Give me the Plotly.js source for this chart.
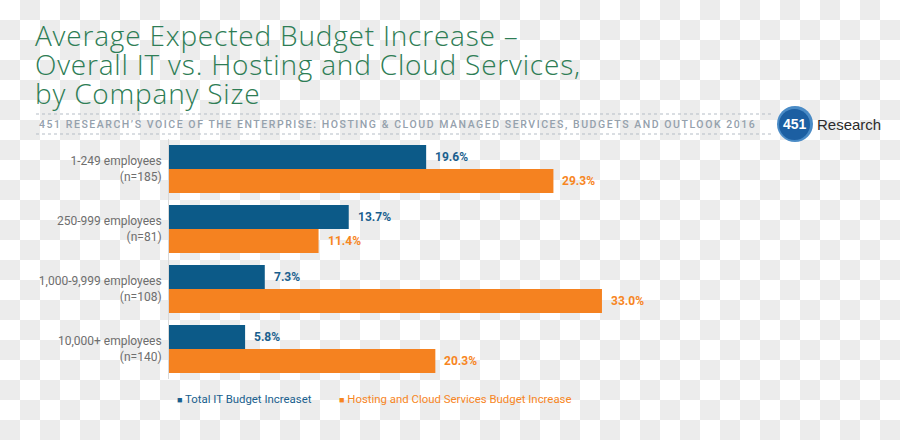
<!DOCTYPE html>
<html>
<head>
<meta charset="utf-8">
<script src="https://cdn.plot.ly/plotly-3.0.1.min.js"></script>
<style>
  html, body { margin:0; padding:0; width:900px; height:440px; overflow:hidden;
    background-color:#ffffff;
    background-image: url("data:image/svg+xml;utf8,<svg xmlns='http://www.w3.org/2000/svg' width='40' height='40'><rect width='40' height='40' fill='%23ffffff'/><rect x='20' y='0' width='20' height='20' fill='%23ececec'/><rect x='0' y='20' width='20' height='20' fill='%23ececec'/></svg>");
    background-size: 40px 40px; background-repeat: repeat; }
  #chart { width:900px; height:440px; }
  g.annotation[data-index="0"] text { letter-spacing: 0.8px; }
  g.annotation[data-index="1"] text { letter-spacing: 1.55px; }
</style>
</head>
<body>
<div id="chart"></div>
<script>
// ---- data ----
const categories = ["1-249 employees<br>(n=185)", "250-999 employees<br>(n=81)", "1,000-9,999 employees<br>(n=108)", "10,000+ employees<br>(n=140)"];
const totalIT = [19.6, 13.7, 7.3, 5.8];
const hostingCloud = [29.3, 11.4, 33.0, 20.3];
const seriesNames = ["Total IT Budget Increaset", "Hosting and Cloud Services Budget Increase"];
const titleLines = ["Average Expected Budget Increase –", "Overall IT vs. Hosting and Cloud Services,", "by Company Size"];
const subtitle = "451 RESEARCH’S VOICE OF THE ENTERPRISE: HOSTING & CLOUD MANAGED SERVICES, BUDGETS AND OUTLOOK 2016";

// ---- styles ----
const BLUE = "#0c5a88", ORANGE = "#f58220";
const BLUE_TXT = "#1a5f8e", ORANGE_TXT = "#f7861f";
const GREEN = "#2e7d55";
const L = 169, T = 139, PW = 656, PH = 240;
const px = x => (x - L) / PW;
const py = y => (T + PH - y) / PH;

const traces = [
  { type:"bar", orientation:"h", name:seriesNames[0], y:categories, x:totalIT,
    marker:{color:BLUE}, hoverinfo:"x" },
  { type:"bar", orientation:"h", name:seriesNames[1], y:categories, x:hostingCloud,
    marker:{color:ORANGE}, hoverinfo:"x" }
];

const annotations = [];
annotations.push({
  xref:"paper", yref:"paper", x:px(34), y:py(15), xanchor:"left", yanchor:"top", align:"left",
  borderpad:0, text:titleLines.join("<br>"), showarrow:false,
  font:{family:"'Open Sans', Lato, sans-serif", size:28, color:GREEN, weight:300}
});
annotations.push({
  xref:"paper", yref:"paper", x:px(397), y:py(124), xanchor:"center", yanchor:"middle",
  text:subtitle, showarrow:false, font:{family:"Roboto, sans-serif", size:10.5, color:"#95a1ad", weight:500}
});
// logo text
annotations.push({ xref:"paper", yref:"paper", x:px(795), y:py(124), xanchor:"center", yanchor:"middle",
  text:"<b>451</b>", showarrow:false, font:{family:"'Liberation Sans', Arial, sans-serif", size:14, color:"#ffffff"} });
annotations.push({ xref:"paper", yref:"paper", x:px(815), y:py(124), xanchor:"left", yanchor:"middle",
  text:"Research", showarrow:false, font:{family:"'Liberation Sans', Arial, sans-serif", size:15, color:"#2b2b2b"} });
// value labels
totalIT.forEach((v, i) => annotations.push({
  xref:"x", yref:"y", x:v, y:categories[i], xanchor:"left", yanchor:"middle", xshift:7, yshift:12,
  text:"<b>" + v.toFixed(1) + "%</b>", showarrow:false, font:{family:"Roboto, sans-serif", size:12, color:BLUE_TXT}
}));
hostingCloud.forEach((v, i) => annotations.push({
  xref:"x", yref:"y", x:v, y:categories[i], xanchor:"left", yanchor:"middle", xshift:7, yshift:-12,
  text:"<b>" + v.toFixed(1) + "%</b>", showarrow:false, font:{family:"Roboto, sans-serif", size:12, color:ORANGE_TXT}
}));
// legend
annotations.push({ xref:"paper", yref:"paper", x:px(175), y:py(399), xanchor:"left", yanchor:"middle",
  text:'<span style="font-size:9px">■</span> ' + seriesNames[0], showarrow:false,
  font:{family:"Roboto, sans-serif", size:11.4, color:BLUE_TXT} });
annotations.push({ xref:"paper", yref:"paper", x:px(337), y:py(399), xanchor:"left", yanchor:"middle",
  text:'<span style="font-size:9px">■</span> ' + seriesNames[1], showarrow:false,
  font:{family:"Roboto, sans-serif", size:11.4, color:ORANGE_TXT} });

const shapes = [
  { type:"line", xref:"paper", yref:"paper", x0:px(36), x1:px(772), y0:py(114), y1:py(114),
    line:{color:"#b5bdc6", width:1, dash:"dot"} },
  { type:"line", xref:"paper", yref:"paper", x0:px(36), x1:px(772), y0:py(134), y1:py(134),
    line:{color:"#b5bdc6", width:1, dash:"dot"} },
  { type:"circle", xref:"paper", yref:"paper", x0:px(777), x1:px(813), y0:py(142), y1:py(106),
    fillcolor:"#4a8bc6", line:{width:0} },
  { type:"circle", xref:"paper", yref:"paper", x0:px(779), x1:px(810), y0:py(140), y1:py(109),
    fillcolor:"#1c5fa2", line:{width:0} }
];

const layout = {
  width:900, height:440,
  margin:{l:L, r:900 - L - PW, t:T, b:440 - T - PH},
  paper_bgcolor:"rgba(0,0,0,0)", plot_bgcolor:"rgba(0,0,0,0)",
  barmode:"group", bargap:0.2, bargroupgap:0,
  showlegend:false,
  xaxis:{range:[0, 50], visible:false, fixedrange:true},
  yaxis:{autorange:"reversed", showline:true, linecolor:"#d9d9d9", linewidth:1,
    ticks:"", ticklabelstandoff:4, showgrid:false, zeroline:false,
    tickfont:{family:"Roboto, sans-serif", size:12, color:"#6e6e6e"}, fixedrange:true},
  annotations, shapes
};

Plotly.newPlot("chart", traces, layout, {displayModeBar:false, staticPlot:true}).then(gd => {
  // tighten title line spacing to match the reference
  const t = gd.querySelector('g.annotation[data-index="0"] text');
  if (t) t.querySelectorAll('tspan.line').forEach((ts, k) => ts.setAttribute('dy', (k * 1.04) + 'em'));
});
</script>
</body>
</html>
